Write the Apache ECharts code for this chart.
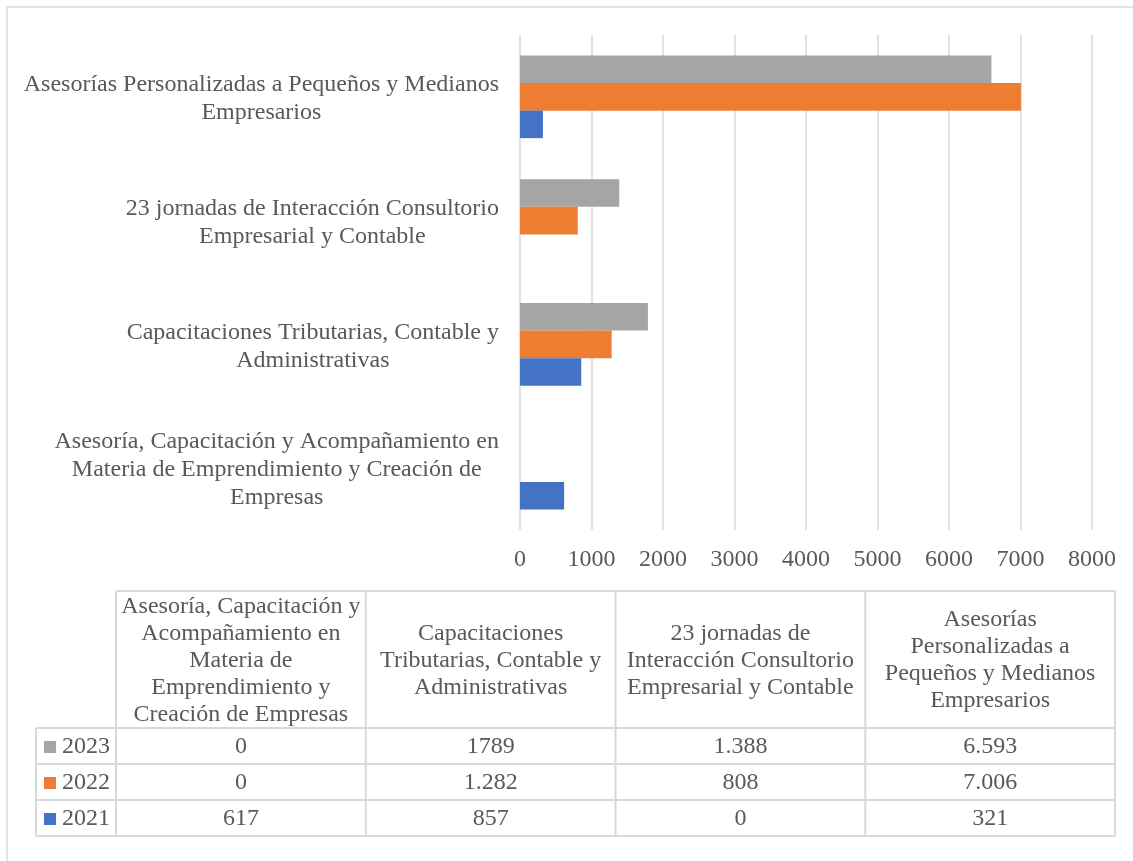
<!DOCTYPE html>
<html>
<head>
<meta charset="utf-8">
<script src="https://cdn.jsdelivr.net/npm/echarts@6/dist/echarts.min.js"></script>
<style>html,body{margin:0;padding:0;background:#fff;}#chart{width:1133px;height:861px;}</style>
</head>
<body>
<div id="chart"></div>
<script>
// Categories (bottom to top on the chart; left to right in the table)
var categories = [
  'Asesoría, Capacitación y Acompañamiento en Materia de Emprendimiento y Creación de Empresas',
  'Capacitaciones Tributarias, Contable y Administrativas',
  '23 jornadas de Interacción Consultorio Empresarial y Contable',
  'Asesorías Personalizadas a Pequeños y Medianos Empresarios'
];
var axisLabels = [
  'Asesoría, Capacitación y Acompañamiento en\nMateria de Emprendimiento y Creación de\nEmpresas',
  'Capacitaciones Tributarias, Contable y\nAdministrativas',
  '23 jornadas de Interacción Consultorio\nEmpresarial y Contable',
  'Asesorías Personalizadas a Pequeños y Medianos\nEmpresarios'
];
var tableHeaders = [
  'Asesoría, Capacitación y\nAcompañamiento en\nMateria de\nEmprendimiento y\nCreación de Empresas',
  'Capacitaciones\nTributarias, Contable y\nAdministrativas',
  '23 jornadas de\nInteracción Consultorio\nEmpresarial y Contable',
  'Asesorías\nPersonalizadas a\nPequeños y Medianos\nEmpresarios'
];
var values2021 = [617, 857, 0, 321];
var values2022 = [0, 1282, 808, 7006];
var values2023 = [0, 1789, 1388, 6593];
var tableText2021 = ['617', '857', '0', '321'];
var tableText2022 = ['0', '1.282', '808', '7.006'];
var tableText2023 = ['0', '1789', '1.388', '6.593'];
var xTicks = [0, 1000, 2000, 3000, 4000, 5000, 6000, 7000, 8000];

var colors = {'2021': '#4472C4', '2022': '#ED7D31', '2023': '#A5A5A5'};
var FONT = '"Liberation Serif", "Times New Roman", serif';
var FS = 24;
var TXT = '#595959';
var LINE = '#D9D9D9';

// Table layout
var tLeft = 36, legendW = 80, colW = 249.75, tTop = 591, headH = 137, rowH = 36;
var colsLeft = tLeft + legendW;
var tableRows = [
  {name: '2023', text: tableText2023},
  {name: '2022', text: tableText2022},
  {name: '2021', text: tableText2021}
];
var tRight = colsLeft + colW * categories.length;
var tBottom = tTop + headH + rowH * tableRows.length;

var g = [];
// outer frame
g.push({type: 'rect', shape: {x: 7, y: 7, width: 1300, height: 1000}, style: {fill: 'none', stroke: LINE, lineWidth: 1.5}, silent: true});
function hline(x1, x2, y) { g.push({type: 'line', shape: {x1: x1, y1: y, x2: x2, y2: y}, style: {stroke: LINE, lineWidth: 2}, silent: true}); }
function vline(x, y1, y2) { g.push({type: 'line', shape: {x1: x, y1: y1, x2: x, y2: y2}, style: {stroke: LINE, lineWidth: 2}, silent: true}); }
hline(colsLeft, tRight, tTop);
for (var r = 0; r <= tableRows.length; r++) hline(tLeft, tRight, tTop + headH + r * rowH);
vline(tLeft, tTop + headH, tBottom);
for (var c = 0; c <= categories.length; c++) vline(colsLeft + c * colW, tTop, tBottom);
// headers
tableHeaders.forEach(function (h, i) {
  g.push({type: 'text', style: {text: h, x: colsLeft + (i + 0.5) * colW, y: tTop + headH / 2 + 1, textAlign: 'center', textVerticalAlign: 'middle', font: FS + 'px ' + FONT, fill: TXT, lineHeight: 27}, silent: true});
});
// rows
tableRows.forEach(function (row, ri) {
  var cy = tTop + headH + (ri + 0.5) * rowH + 1;
  g.push({type: 'rect', shape: {x: tLeft + 8, y: cy - 6, width: 12, height: 12}, style: {fill: colors[row.name]}, silent: true});
  g.push({type: 'text', style: {text: row.name, x: tLeft + 26, y: cy, textAlign: 'left', textVerticalAlign: 'middle', font: FS + 'px ' + FONT, fill: TXT}, silent: true});
  row.text.forEach(function (t, ci) {
    g.push({type: 'text', style: {text: t, x: colsLeft + (ci + 0.5) * colW, y: cy, textAlign: 'center', textVerticalAlign: 'middle', font: FS + 'px ' + FONT, fill: TXT}, silent: true});
  });
});

var chart = echarts.init(document.getElementById('chart'));
chart.setOption({
  animation: false,
  backgroundColor: '#fff',
  grid: {left: 520, right: 41, top: 35, bottom: 331, containLabel: false},
  xAxis: {
    type: 'value', min: xTicks[0], max: xTicks[xTicks.length - 1], interval: xTicks[1] - xTicks[0],
    axisLine: {show: false}, axisTick: {show: false},
    splitLine: {show: true, lineStyle: {color: LINE, width: 1.5}},
    axisLabel: {fontFamily: FONT, fontSize: FS, color: TXT, margin: 18, formatter: function (v) { return String(v); }}
  },
  yAxis: {
    type: 'category', data: axisLabels,
    axisLine: {show: false}, axisTick: {show: false}, splitLine: {show: false},
    axisLabel: {
      fontFamily: FONT, fontSize: FS, color: TXT, margin: 21, lineHeight: 28, padding: [4, 0, 0, 0],
      formatter: function (v) { return v.split('\n').map(function (l) { return '{c|' + l + '}'; }).join('\n'); },
      rich: {c: {align: 'center', fontFamily: FONT, fontSize: FS, color: TXT, lineHeight: 28}}
    }
  },
  series: [
    {name: '2023', type: 'bar', data: values2023, itemStyle: {color: colors['2023']}, barGap: '0%', barCategoryGap: '33.3%'},
    {name: '2022', type: 'bar', data: values2022, itemStyle: {color: colors['2022']}, barGap: '0%', barCategoryGap: '33.3%'},
    {name: '2021', type: 'bar', data: values2021, itemStyle: {color: colors['2021']}, barGap: '0%', barCategoryGap: '33.3%'}
  ],
  graphic: g
});
</script>
</body>
</html>
